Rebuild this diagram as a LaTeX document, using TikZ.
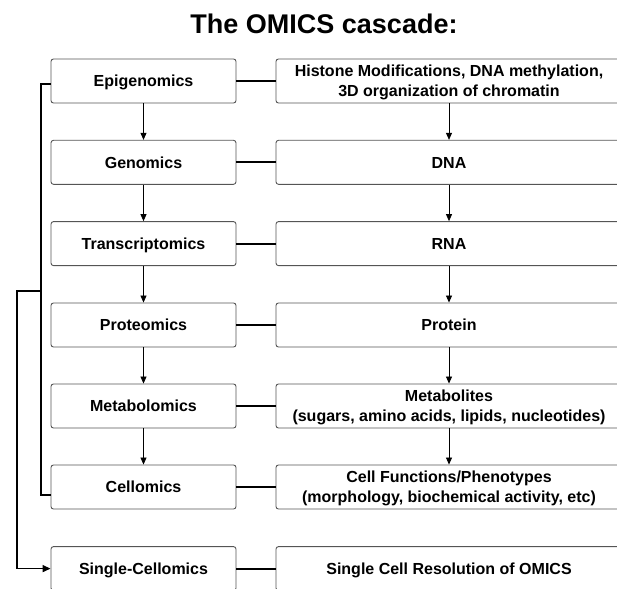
\documentclass[tikz,border=0pt]{standalone}
\usepackage{fontspec}
\setmainfont{Liberation Sans}
\usetikzlibrary{arrows.meta}
\definecolor{boxgray}{HTML}{555555}
\begin{document}
\begin{tikzpicture}[x=1pt,y=-1pt,
  lbox/.style={draw=boxgray, line width=0.9pt, rounded corners=2.5pt,
    minimum width=185pt, minimum height=44pt, inner sep=0pt,
    font=\bfseries\fontsize{16}{20}\selectfont, align=center,
    text height=11.5pt, text depth=0pt},
  rbox/.style={lbox, minimum width=346pt},
  twoline/.style={text height=31.5pt, text depth=0pt},
  flow/.style={-{Triangle[length=7pt,width=6pt]}, line width=0.8pt},
  link/.style={line width=2pt},
  bracket/.style={line width=1.4pt},
  ttl/.style={font=\bfseries\fontsize{27}{32}\selectfont, anchor=base}]
\clip (0,0) rectangle (617,588);
\node[ttl] (title) at (324,34) {The OMICS cascade:};
% left column
\node[lbox] (E) at (143.5,81)    {Epigenomics};
\node[lbox] (G) at (143.5,162.3) {Genomics};
\node[lbox] (T) at (143.5,243.6) {Transcriptomics};
\node[lbox] (P) at (143.5,325)   {Proteomics};
\node[lbox] (M) at (143.5,406)   {Metabolomics};
\node[lbox] (C) at (143.5,487)   {Cellomics};
\node[lbox] (S) at (143.5,568.6) {Single-Cellomics};
% right column
\node[rbox,twoline] (Er) at (449,81)    {Histone Modifications, DNA methylation,\\3D organization of chromatin};
\node[rbox] (Gr) at (449,162.3) {DNA};
\node[rbox] (Tr) at (449,243.6) {RNA};
\node[rbox] (Pr) at (449,325)   {Protein};
\node[rbox,twoline] (Mr) at (449,406)   {Metabolites\\(sugars, amino acids, lipids, nucleotides)};
\node[rbox,twoline] (Cr) at (449,487)   {Cell Functions/Phenotypes\\(morphology, biochemical activity, etc)};
\node[rbox] (Sr) at (449,568.6) {Single Cell Resolution of OMICS};
% vertical flow arrows
\foreach \a/\b in {E/G,G/T,T/P,P/M,M/C}{
  \draw[flow] (\a) -- (\b);
  \draw[flow] (\a r) -- (\b r);
}
% horizontal links
\foreach \a in {E,G,T,P,M,C,S}{
  \draw[link] (\a.east) -- (\a r.west);
}
% brackets
\coordinate (b1) at (41,84);
\coordinate (b2) at (41,495);
\draw[bracket] ([yshift=-3pt]E.west) -- (b1) -- (b2) -- ([yshift=-8pt]C.west);
\coordinate (o1) at (41,291);
\coordinate (o2) at (17,291);
\coordinate (o3) at (17,568.6);
\draw[bracket, -{Triangle[length=8pt,width=7pt]}] (o1) -- (o2) -- (o3) -- (S.west);
\end{tikzpicture}
\end{document}
